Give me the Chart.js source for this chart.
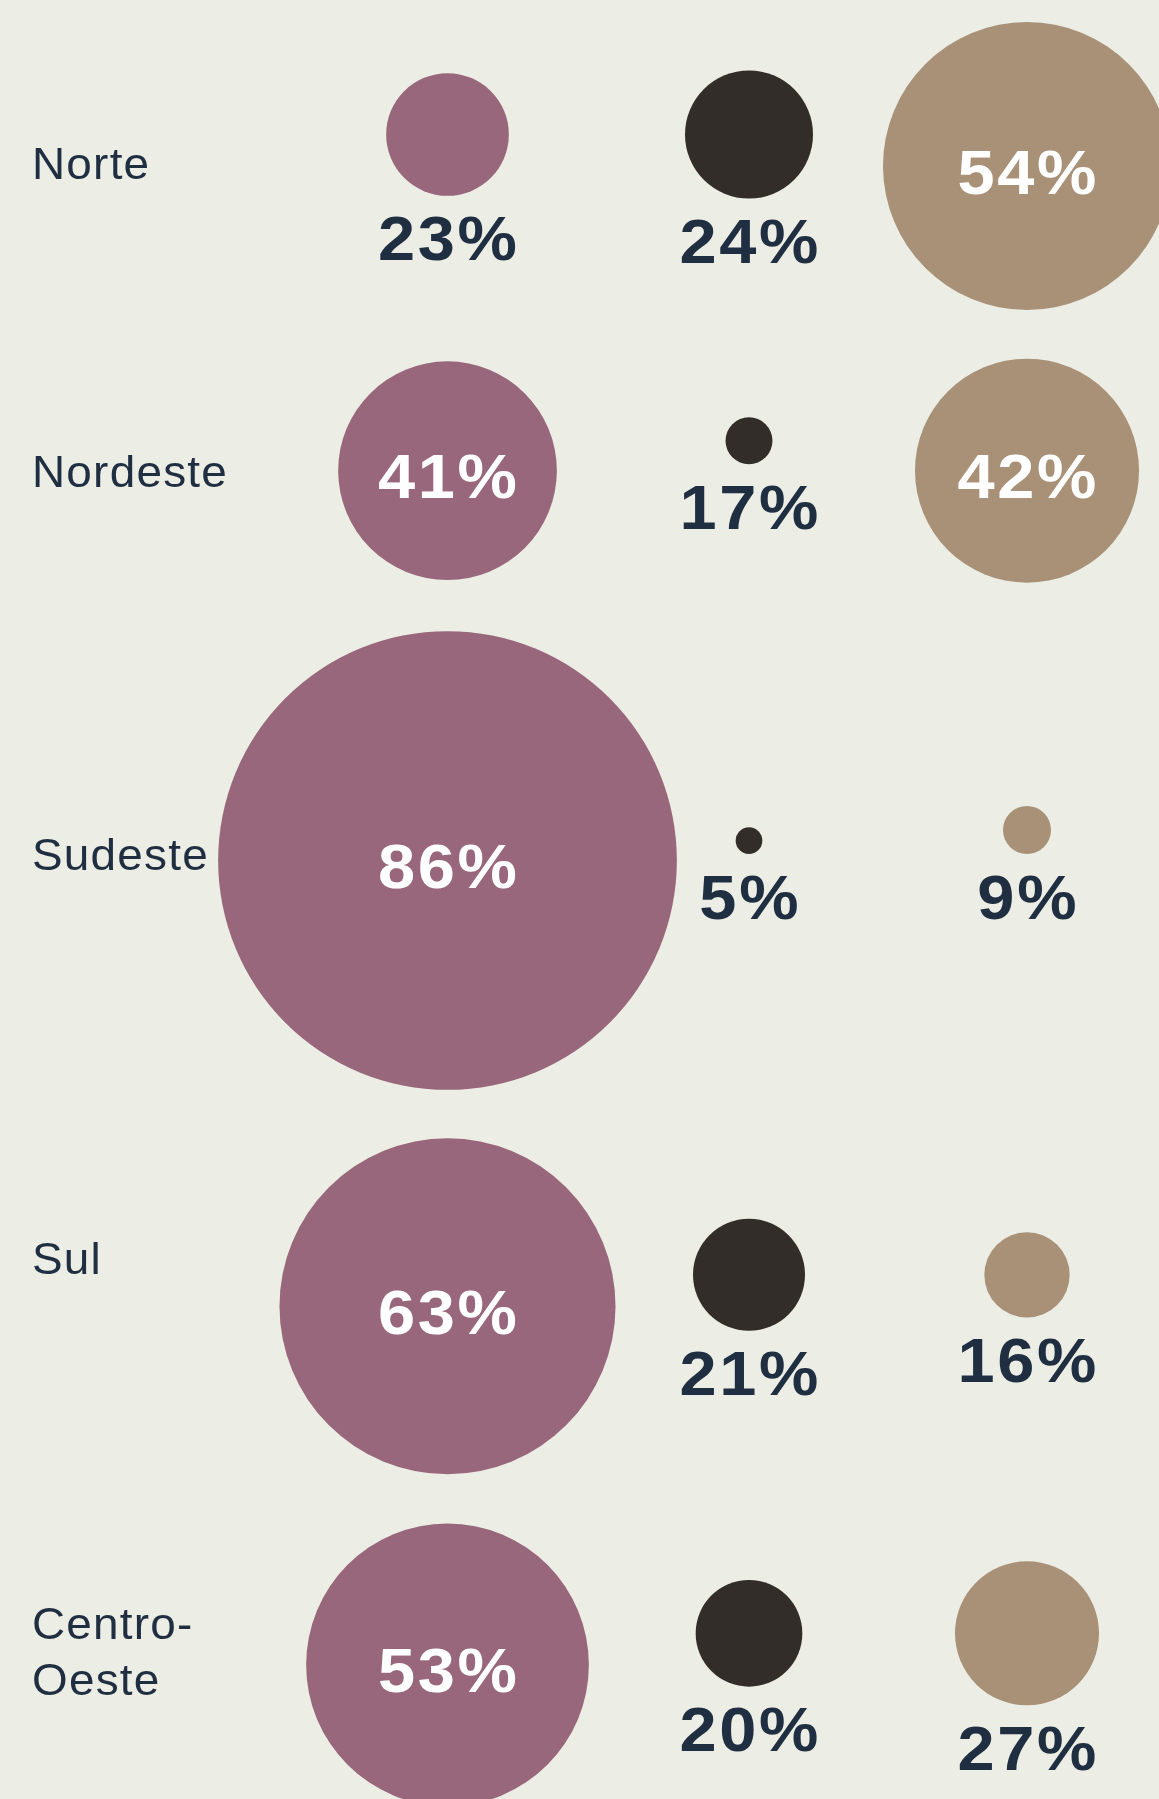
<!DOCTYPE html>
<html>
<head>
<meta charset="utf-8">
<script src="https://cdn.jsdelivr.net/npm/chart.js@4"></script>
<style>
  html, body { margin: 0; padding: 0; background: #ECEDE4; }
  canvas { display: block; }
</style>
</head>
<body>
<canvas id="bubbles" width="1159" height="1799"></canvas>
<script>
// values (%) per region
const regions = ["Norte", "Nordeste", "Sudeste", "Sul", "Centro-Oeste"];
const serieRosa = [23, 41, 86, 63, 53];
const serieEscura = [24, 17, 5, 21, 20];
const serieBege = [54, 42, 9, 16, 27];
// size the dark bubble is drawn at (Nordeste is drawn smaller than its label)
const tamanhoEscura = [24, 8.8, 5, 21, 20];

// layout
const colX = [447.5, 749, 1027];
const rowY = [166, 470.7, 860.5, 1306.3, 1664.8];
const labelY = [[163], [471], [854], [1258], [1623, 1679]];
const PX_PER_PCT = 2.667;
const MIN_BOX_R = 25;
const INSIDE_R = 90;
const colors = ["#98677B", "#332D2A", "#A89176"];
const navy = "#1F2E40";

function buildPoints(values, sizes, col) {
    return values.map((v, i) => {
        const r = sizes[i] * PX_PER_PCT;
        let y = rowY[i];
        if (r < INSIDE_R) {
            // circle + label stacked and centred on the row
            y = rowY[i] - 31.5 + (Math.max(r, MIN_BOX_R) - r);
        }
        return { x: colX[col], y: y, r: r, v: v };
    });
}

function wideText(c, txt, x, y, sx, sp) {
    c.save();
    c.translate(x + sp / 2, y);
    c.scale(sx, 1);
    c.fillText(txt, 0, 0);
    c.restore();
}

const labelPlugin = {
    id: "labels",
    afterDatasetsDraw(chart) {
        const c = chart.ctx;
        const yScale = chart.scales.y;
        c.save();
        c.textAlign = "center";
        c.textBaseline = "alphabetic";
        c.font = "bold 63px 'Liberation Sans', Arial, sans-serif";
        c.letterSpacing = "2.5px";
        chart.data.datasets.forEach((ds, di) => {
            const meta = chart.getDatasetMeta(di);
            meta.data.forEach((el, i) => {
                const p = ds.data[i];
                const txt = p.v + "%";
                if (p.r >= INSIDE_R) {
                    c.fillStyle = "#FFFFFF";
                    wideText(c, txt, el.x, el.y + 5 + 22.5, 1.06, 2.5);
                } else {
                    c.fillStyle = navy;
                    wideText(c, txt, el.x, el.y + p.r + 42 + 22.5, 1.06, 2.5);
                }
            });
        });
        // region names
        c.textAlign = "left";
        c.font = "45px 'Liberation Sans', Arial, sans-serif";
        c.letterSpacing = "1.2px";
        c.fillStyle = navy;
        regions.forEach((name, i) => {
            const lines = name === "Centro-Oeste" ? ["Centro-", "Oeste"] : [name];
            lines.forEach((ln, k) => {
                c.save();
                c.translate(32, yScale.getPixelForValue(labelY[i][k]) + 16);
                c.scale(1.02, 1);
                c.fillText(ln, 0, 0);
                c.restore();
            });
        });
        c.restore();
    }
};

new Chart(document.getElementById("bubbles").getContext("2d"), {
    type: "bubble",
    data: {
        datasets: [
            { label: "rosa", data: buildPoints(serieRosa, serieRosa, 0), backgroundColor: colors[0], clip: false },
            { label: "escura", data: buildPoints(serieEscura, tamanhoEscura, 1), backgroundColor: colors[1], clip: false },
            { label: "bege", data: buildPoints(serieBege, serieBege, 2), backgroundColor: colors[2], clip: false }
        ]
    },
    options: {
        responsive: false,
        animation: false,
        events: [],
        layout: { padding: 0, autoPadding: false },
        elements: { point: { borderWidth: 0, hoverBorderWidth: 0 } },
        scales: {
            x: { type: "linear", min: 0, max: 1159, display: false },
            y: { type: "linear", min: 0, max: 1799, reverse: true, display: false }
        },
        plugins: {
            legend: { display: false },
            tooltip: { enabled: false }
        }
    },
    plugins: [labelPlugin]
});
</script>
</body>
</html>
